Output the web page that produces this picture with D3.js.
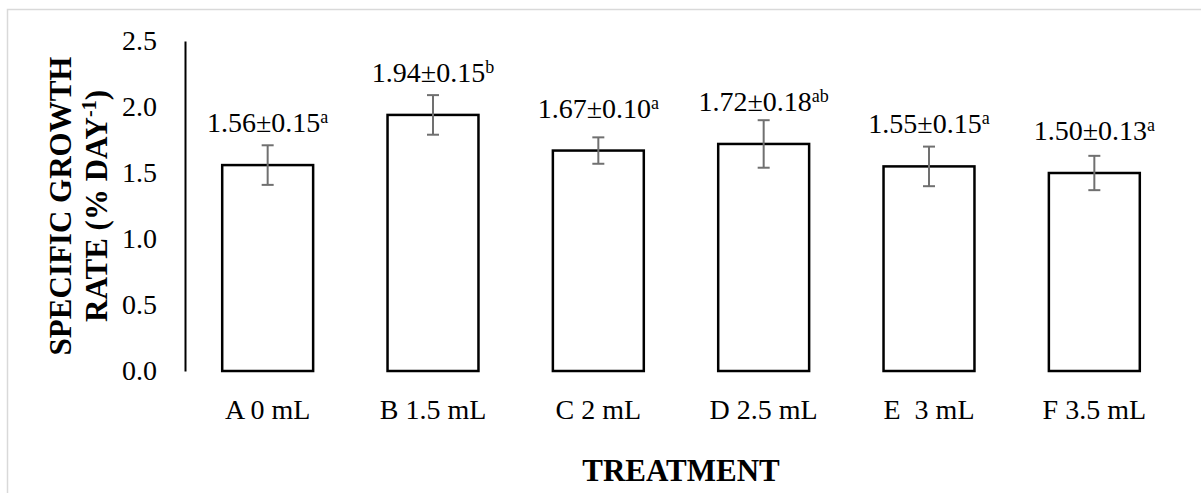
<!DOCTYPE html>
<html>
<head>
<meta charset="utf-8">
<script src="https://cdn.jsdelivr.net/npm/d3@7"></script>
</head>
<body style="margin:0;padding:0;background:#fff">
<svg id="chart" width="1201" height="493" style="display:block"></svg>
<script>
const categories = ["A 0 mL", "B 1.5 mL", "C 2 mL", "D 2.5 mL", "E  3 mL", "F 3.5 mL"];
const means = [1.56, 1.94, 1.67, 1.72, 1.55, 1.50];
const sds = [0.15, 0.15, 0.10, 0.18, 0.15, 0.13];
const letters = ["a", "b", "a", "ab", "a", "a"];
const yTicks = [0.0, 0.5, 1.0, 1.5, 2.0, 2.5];

const FONT = "'Liberation Serif'";
const svg = d3.select("#chart");

// outer chart border
svg.append("rect")
  .attr("x", 7.5).attr("y", 9.5)
  .attr("width", 1210).attr("height", 500)
  .attr("fill", "none").attr("stroke", "#d9d9d9").attr("stroke-width", 1.5);

const x = d3.scaleBand().domain(categories).range([185, 1177])
  .paddingInner(0.45).paddingOuter(0.225);
const y = d3.scaleLinear().domain([0, 2.5]).range([371, 41]);

// y axis
const yAxis = d3.axisLeft(y).tickValues(yTicks).tickFormat(d3.format(".1f")).tickSize(0).tickPadding(28);
const gy = svg.append("g").attr("transform", "translate(185,0)").call(yAxis);
gy.attr("font-family", null);
gy.select(".domain").attr("stroke", "#000").attr("stroke-width", 2);
gy.selectAll("text").attr("font-size", 28).style("font-family", FONT).attr("fill", "#000");

// x axis labels (no line)
const xAxis = d3.axisBottom(x).tickSize(0).tickPadding(0);
const gx = svg.append("g").attr("transform", "translate(0,371)").call(xAxis);
gx.attr("font-family", null);
gx.select(".domain").remove();
gx.selectAll("text").attr("font-size", 28).style("font-family", FONT).attr("fill", "#000")
  .attr("dy", null).attr("y", 48).style("white-space", "pre");

const data = categories.map((c, i) => ({ c, m: means[i], s: sds[i], l: letters[i] }));

// bars
svg.append("g").selectAll("rect").data(data).join("rect")
  .attr("x", d => x(d.c)).attr("width", x.bandwidth())
  .attr("y", d => y(d.m)).attr("height", d => y(0) - y(d.m))
  .attr("fill", "#fff").attr("stroke", "#000").attr("stroke-width", 2.5);

// error bars
const eb = svg.append("g").attr("stroke", "#707070").attr("stroke-width", 2).attr("fill", "none");
data.forEach(d => {
  const cx = x(d.c) + x.bandwidth() / 2;
  eb.append("line").attr("x1", cx).attr("x2", cx).attr("y1", y(d.m + d.s)).attr("y2", y(d.m - d.s));
  eb.append("line").attr("x1", cx - 6).attr("x2", cx + 6).attr("y1", y(d.m + d.s)).attr("y2", y(d.m + d.s));
  eb.append("line").attr("x1", cx - 6).attr("x2", cx + 6).attr("y1", y(d.m - d.s)).attr("y2", y(d.m - d.s));
});

// value labels
const lab = svg.append("g");
data.forEach(d => {
  const cx = x(d.c) + x.bandwidth() / 2;
  const t = lab.append("text").attr("x", cx).attr("y", y(d.m) - 33)
    .attr("text-anchor", "middle").attr("font-size", 28).style("font-family", FONT).attr("fill", "#000");
  t.append("tspan").text(d.m.toFixed(2) + "\u00B1" + d.s.toFixed(2));
  t.append("tspan").attr("font-size", 18).attr("dy", -9).text(d.l);
});

// x title
svg.append("text").attr("x", 681).attr("y", 481).attr("text-anchor", "middle").style("font-family", FONT)
  .attr("font-size", 31).attr("font-weight", "bold").attr("fill", "#000").text("TREATMENT");

// y title
const yt = svg.append("g").attr("transform", "translate(0,206) rotate(-90)");
yt.append("text").attr("x", 0).attr("y", 71).attr("text-anchor", "middle").style("font-family", FONT)
  .attr("font-size", 31).attr("font-weight", "bold").attr("fill", "#000").text("SPECIFIC GROWTH");
const t2 = yt.append("text").attr("x", 0).attr("y", 107).attr("text-anchor", "middle").style("font-family", FONT)
  .attr("font-size", 31).attr("font-weight", "bold").attr("fill", "#000");
t2.append("tspan").text("RATE (% DAY");
t2.append("tspan").attr("font-size", 20).attr("dy", -11).text("-1");
t2.append("tspan").attr("dy", 11).text(")");
</script>
</body>
</html>
